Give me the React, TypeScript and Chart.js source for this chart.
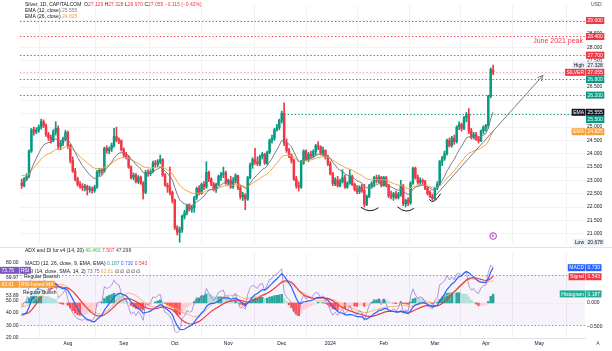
import { useEffect, useRef } from "react";
import { Chart, registerables } from "chart.js";

Chart.register(...registerables);

// ---------- daily candles, Silver 1D (idx 0 = 5 Jul 2023 … idx 194 = 4 Apr 2024) ----------
const opens = [
  22.90, 22.80, 23.05, 23.15, 24.10, 24.90, 24.82, 24.88, 25.00, 25.20,
  25.05, 24.72, 24.60, 24.50, 24.82, 24.95, 24.28, 24.40, 24.55, 24.80,
  24.30, 23.75, 23.35, 23.05, 22.85, 22.78, 22.72, 22.78, 22.65, 22.68,
  22.62, 22.75, 23.30, 23.38, 23.35, 24.20, 24.12, 24.18, 24.32, 24.65,
  24.52, 24.48, 24.15, 23.95, 23.88, 23.50, 23.10, 23.20, 22.95, 23.12,
  22.90, 22.55, 23.30, 23.25, 23.32, 23.65, 23.60, 23.70, 23.78, 23.20,
  22.82, 22.75, 22.55, 22.25, 21.22, 21.05, 21.15, 21.65, 21.78, 22.05,
  21.92, 21.98, 22.35, 22.70, 22.50, 22.85, 22.75, 23.30, 23.05, 22.85,
  22.65, 22.85, 23.15, 23.22, 23.28, 22.90, 23.00, 22.75, 22.98, 23.18,
  22.72, 22.38, 22.45, 22.30, 23.10, 23.58, 23.78, 23.70, 23.62, 23.90,
  23.98, 23.65, 24.05, 24.50, 24.58, 24.90, 24.98, 25.25, 25.52, 24.40,
  24.12, 23.95, 23.75, 23.05, 22.80, 22.75, 23.65, 24.10, 23.80, 23.98,
  23.92, 24.08, 24.30, 24.25, 24.02, 24.12, 23.85, 23.62, 23.25, 22.88,
  23.02, 22.80, 22.95, 23.10, 22.75, 22.90, 23.15, 22.85, 22.65, 22.58,
  22.75, 22.62, 22.10, 22.40, 22.80, 22.88, 23.10, 22.98, 23.12, 22.80,
  23.10, 22.82, 22.42, 22.38, 22.50, 22.35, 22.48, 22.80, 22.12, 22.25,
  22.15, 22.90, 23.45, 23.12, 22.92, 23.00, 22.95, 22.70, 22.55, 22.40,
  22.32, 22.70, 22.85, 23.70, 23.82, 24.00, 24.50, 24.30, 24.58, 24.45,
  25.00, 25.10, 24.95, 25.35, 25.48, 24.85, 24.62, 24.72, 24.55, 24.48,
  24.85, 25.00, 25.05, 26.15, 27.129,
];
const highs = [
  23.05, 23.10, 23.25, 24.15, 24.95, 25.00, 24.98, 25.08, 25.30, 25.27,
  25.12, 24.80, 24.70, 24.90, 25.20, 25.05, 24.50, 24.62, 24.88, 24.85,
  24.35, 23.88, 23.45, 23.12, 22.95, 22.88, 22.85, 22.82, 22.78, 22.75,
  22.82, 23.38, 23.45, 23.45, 24.25, 24.30, 24.25, 24.40, 24.95, 25.00,
  24.60, 24.52, 24.22, 24.05, 23.92, 23.55, 23.28, 23.25, 23.18, 23.16,
  22.95, 23.38, 23.40, 23.40, 23.72, 23.75, 23.78, 23.95, 23.82, 23.25,
  22.90, 23.50, 22.60, 22.30, 21.30, 21.25, 21.70, 21.88, 22.10, 22.12,
  22.05, 22.40, 22.75, 22.80, 22.90, 22.95, 23.70, 23.35, 23.10, 22.92,
  22.90, 23.20, 23.30, 23.50, 23.35, 23.05, 23.15, 23.10, 23.25, 23.20,
  22.80, 22.55, 22.50, 23.15, 23.65, 23.85, 24.20, 23.88, 23.95, 24.05,
  24.02, 24.10, 24.55, 24.70, 24.95, 25.10, 25.30, 25.60, 25.91, 24.55,
  24.20, 24.00, 23.80, 23.15, 22.95, 23.75, 24.15, 24.15, 24.05, 24.10,
  24.15, 24.35, 24.45, 24.30, 24.25, 24.15, 23.95, 23.70, 23.30, 23.10,
  23.15, 23.05, 23.40, 23.20, 22.95, 23.40, 23.20, 22.90, 22.80, 22.80,
  22.85, 22.85, 22.45, 22.85, 22.95, 23.15, 23.20, 23.20, 23.15, 23.15,
  23.15, 22.85, 22.60, 22.55, 22.60, 22.55, 23.00, 22.85, 22.30, 22.35,
  22.95, 23.50, 23.50, 23.20, 23.10, 23.05, 23.00, 22.75, 22.62, 22.48,
  22.75, 22.95, 23.75, 23.90, 24.10, 24.55, 24.60, 24.65, 24.70, 25.05,
  25.20, 25.15, 25.40, 25.55, 25.69, 24.95, 24.80, 24.80, 24.65, 24.90,
  25.05, 25.10, 26.20, 27.22, 27.328,
];
const lows = [
  22.70, 22.75, 23.00, 23.10, 24.05, 24.70, 24.75, 24.80, 24.92, 24.98,
  24.65, 24.50, 24.40, 24.45, 24.70, 24.18, 24.15, 24.30, 24.48, 24.20,
  23.65, 23.30, 22.98, 22.78, 22.70, 22.62, 22.60, 22.45, 22.55, 22.52,
  22.55, 22.70, 23.18, 23.22, 23.30, 24.02, 24.00, 24.08, 24.25, 24.45,
  24.38, 24.10, 23.88, 23.80, 23.45, 23.05, 23.02, 22.90, 22.88, 22.85,
  22.30, 22.50, 23.15, 23.18, 23.28, 23.50, 23.52, 23.62, 23.15, 22.78,
  22.55, 22.45, 22.15, 21.15, 20.95, 20.678, 21.05, 21.55, 21.70, 21.85,
  21.80, 21.80, 22.28, 22.45, 22.48, 22.65, 22.70, 22.95, 22.80, 22.60,
  22.55, 22.80, 23.00, 23.10, 22.85, 22.80, 22.70, 22.70, 22.90, 22.65,
  22.30, 22.25, 21.90, 22.25, 23.05, 23.45, 23.60, 23.55, 23.55, 23.80,
  23.60, 23.60, 24.00, 24.40, 24.50, 24.85, 24.90, 25.15, 24.30, 24.05,
  23.85, 23.65, 23.00, 22.70, 22.60, 22.70, 23.60, 23.75, 23.70, 23.85,
  23.85, 23.95, 24.15, 23.95, 23.92, 23.80, 23.55, 23.20, 22.80, 22.80,
  22.75, 22.75, 22.90, 22.70, 22.70, 22.85, 22.80, 22.60, 22.50, 22.50,
  22.55, 22.00, 22.05, 22.35, 22.70, 22.75, 22.90, 22.90, 22.75, 22.78,
  22.75, 22.35, 22.30, 22.25, 22.30, 22.30, 22.40, 22.05, 22.00, 22.05,
  22.10, 22.85, 23.05, 22.85, 22.85, 22.85, 22.65, 22.45, 22.35, 22.25,
  22.28, 22.65, 22.80, 23.55, 23.75, 23.95, 24.25, 24.25, 24.35, 24.40,
  24.90, 24.85, 24.90, 25.20, 24.75, 24.55, 24.55, 24.50, 24.40, 24.45,
  24.75, 24.85, 24.95, 26.10, 26.970,
];
const closes = [
  22.80, 23.05, 23.15, 24.10, 24.90, 24.82, 24.88, 25.00, 25.20, 25.05,
  24.72, 24.60, 24.50, 24.82, 24.95, 24.28, 24.40, 24.55, 24.80, 24.30,
  23.75, 23.35, 23.05, 22.85, 22.78, 22.72, 22.78, 22.65, 22.68, 22.62,
  22.75, 23.30, 23.38, 23.35, 24.20, 24.12, 24.18, 24.32, 24.65, 24.52,
  24.48, 24.15, 23.95, 23.88, 23.50, 23.10, 23.20, 22.95, 23.12, 22.90,
  22.55, 23.30, 23.25, 23.32, 23.65, 23.60, 23.70, 23.78, 23.20, 22.82,
  22.75, 22.55, 22.25, 21.22, 21.05, 21.15, 21.65, 21.78, 22.05, 21.92,
  21.98, 22.35, 22.70, 22.50, 22.85, 22.75, 23.30, 23.05, 22.85, 22.65,
  22.85, 23.15, 23.22, 23.28, 22.90, 23.00, 22.75, 22.98, 23.18, 22.72,
  22.38, 22.45, 22.30, 23.10, 23.58, 23.78, 23.70, 23.62, 23.90, 23.98,
  23.65, 24.05, 24.50, 24.58, 24.90, 24.98, 25.25, 25.52, 24.40, 24.12,
  23.95, 23.75, 23.05, 22.80, 22.75, 23.65, 24.10, 23.80, 23.98, 23.92,
  24.08, 24.30, 24.25, 24.02, 24.12, 23.85, 23.62, 23.25, 22.88, 23.02,
  22.80, 22.95, 23.10, 22.75, 22.90, 23.15, 22.85, 22.65, 22.58, 22.75,
  22.62, 22.10, 22.40, 22.80, 22.88, 23.10, 22.98, 23.12, 22.80, 23.10,
  22.82, 22.42, 22.38, 22.50, 22.35, 22.48, 22.80, 22.12, 22.25, 22.15,
  22.90, 23.45, 23.12, 22.92, 23.00, 22.95, 22.70, 22.50, 22.40, 22.32,
  22.70, 22.85, 23.70, 23.82, 24.00, 24.50, 24.30, 24.58, 24.45, 25.00,
  25.10, 24.95, 25.35, 25.48, 24.85, 24.62, 24.72, 24.55, 24.48, 24.85,
  25.00, 25.05, 26.15, 27.17, 27.055,
];

// ---------- axes / ticks ----------
const monthTickIdx = [19, 42, 63, 85, 107, 127, 149, 170, 191, 213];
const monthTickLabels = ["Aug", "Sep", "Oct", "Nov", "Dec", "2024", "Feb", "Mar", "Apr", "May"];
const priceTicks = [21, 21.5, 22, 22.5, 23, 23.5, 24, 24.5, 25, 25.5, 26, 26.5, 27, 27.5, 28, 28.5, 29];
const hiddenPriceLabels = [25.5, 26, 27];
const rsiAxisTicks = [80, 50, 40, 30, 20];
const rsiExtraLabels = [69.97, 53.89];
const macdAxisTicks = [0, -0.5];
const xRange = [-0.7, 231.8];
const priceRange = [20.649, 29.582];
const rsiRange = [19.85, 87.54];
const macdRange = [-0.726, 1.034];

// ---------- drawn levels / annotations (data coordinates) ----------
const redLevels = [29.0, 28.4, 27.7];
const greenLevels = [26.8, 26.2];
const breakoutLevel = 25.5;
const breakoutFromIdx = 108;
const smileArcs = [
  [139.6, 21.99, 143.2, 21.86, 146.8, 21.97],
  [154.6, 22.01, 158.0, 21.85, 161.4, 21.95],
  [167.7, 22.29, 169.7, 22.22, 172.4, 22.5],
];
const trendArrow = [168.8, 22.28, 214.5, 26.94];
const peakNotePrice = 28.21;
const eventIdx = 194;

// ---------- indicator seeds & legend values ----------
const ema12Seed = 22.95;
const ema26Seed = 23.22;
const signalSeed = -0.22;
const rsiSeed = [22.95, 0.12, 0.14];
const rsiMaSeed = 45;
const emaLegend = [25.555, 24.825];
const macdLegend = [0.187, 0.73, 0.543];
const rsiLegend = [73.75, 63.61];
const adxLegend = [40.463, 7.507, 47.298];

const FONT = '"Liberation Sans", Arial, sans-serif';
const DARK = "#131722";
const GREEN = "#089981";
const RED = "#f23645";
const GRID = "#f1f2f5";

function ema(src: number[], period: number, seed: number) {
  const a = 2 / (period + 1);
  let e = seed;
  return src.map((v) => (e = e + a * (v - e)));
}
function rsiCalc(src: number[], period: number, seed: number[]) {
  let [prev, ag, al] = seed;
  return src.map((v) => {
    const ch = v - prev;
    prev = v;
    ag = (ag * (period - 1) + Math.max(ch, 0)) / period;
    al = (al * (period - 1) + Math.max(-ch, 0)) / period;
    return 100 - 100 / (1 + ag / al);
  });
}
function sma(src: number[], period: number, seed: number) {
  return src.map((_, i) => {
    let s = 0;
    for (let k = i - period + 1; k <= i; k++) s += k >= 0 ? src[k] : seed;
    return s / period;
  });
}
function segs(ctx: any, x: number, y: number, parts: [string, string][], size = 5) {
  ctx.font = `${size}px ${FONT}`;
  ctx.textBaseline = "middle";
  ctx.textAlign = "left";
  let cx = x;
  for (const [t, c] of parts) {
    ctx.fillStyle = c;
    ctx.fillText(t, cx, y);
    cx += ctx.measureText(t).width;
  }
}
function tag(ctx: any, x: number, yc: number, text: string, bg: string, fg: string, minW = 0, alignRight = false) {
  ctx.font = `5px ${FONT}`;
  const w = Math.max(minW, ctx.measureText(text).width + 3);
  const x0 = alignRight ? x - w : x;
  ctx.fillStyle = bg;
  ctx.fillRect(x0, yc - 3.5, w, 7);
  ctx.fillStyle = fg;
  ctx.textBaseline = "middle";
  ctx.textAlign = "left";
  ctx.fillText(text, x0 + 1.5, yc + 0.3);
}
const fmt = (v: number) => (v < 0 ? "\u2212" : "") + Math.abs(v).toFixed(3);

export default function App() {
  const mainRef = useRef<HTMLCanvasElement>(null);
  const subRef = useRef<HTMLCanvasElement>(null);

  useEffect(() => {
    Chart.defaults.font.family = FONT;
    const n = closes.length;
    const last = n - 1;
    const ema12 = ema(closes, 12, ema12Seed);
    const ema26 = ema(closes, 26, ema26Seed);
    const macd = ema12.map((v, i) => v - ema26[i]);
    const signal = ema(macd, 9, signalSeed);
    const hist = macd.map((v, i) => v - signal[i]);
    const rsi = rsiCalc(closes, 14, rsiSeed);
    const rsiMa = sma(rsi, 14, rsiMaSeed);
    const candleColors = closes.map((c, i) => (c >= opens[i] ? GREEN : RED));
    const histColors = hist.map((h, i) => {
      const p = i > 0 ? hist[i - 1] : h;
      if (h >= 0) return h > p ? "#26a69a" : "#b2dfdb";
      return h < p ? "#ff5252" : "#ffcdd2";
    });
    const pts = (arr: number[]) => arr.map((v, i) => ({ x: i, y: v }));

    const mainPlugin = {
      id: "mainOverlay",
      beforeDatasetsDraw(chart: any) {
        const { ctx, chartArea: a, scales } = chart;
        const x = scales.x, y = scales.y;
        ctx.save();
        ctx.lineWidth = 1.1;
        ctx.setLineDash([1.3, 2.2]);
        const hl = (p: number, color: string, from?: number) => {
          const yy = Math.round(y.getPixelForValue(p)) + 0.5;
          ctx.strokeStyle = color;
          ctx.beginPath();
          ctx.moveTo(from != null ? x.getPixelForValue(from) : a.left, yy);
          ctx.lineTo(a.right, yy);
          ctx.stroke();
        };
        redLevels.forEach((p) => hl(p, RED));
        hl(closes[last], "rgba(242,54,69,0.45)");
        greenLevels.forEach((p) => hl(p, GREEN));
        hl(breakoutLevel, GREEN, breakoutFromIdx);
        ctx.restore();
      },
      afterDatasetsDraw(chart: any) {
        const { ctx, chartArea: a, scales } = chart;
        const x = scales.x, y = scales.y;
        ctx.save();
        ctx.setLineDash([]);
        ctx.strokeStyle = DARK;
        ctx.lineWidth = 1;
        smileArcs.forEach(([x1, p1, xm, pm, x2, p2]) => {
          const X1 = x.getPixelForValue(x1), Y1 = y.getPixelForValue(p1);
          const XM = x.getPixelForValue(xm), YM = y.getPixelForValue(pm);
          const X2 = x.getPixelForValue(x2), Y2 = y.getPixelForValue(p2);
          ctx.beginPath();
          ctx.moveTo(X1, Y1);
          ctx.quadraticCurveTo(2 * XM - (X1 + X2) / 2, 2 * YM - (Y1 + Y2) / 2, X2, Y2);
          ctx.stroke();
        });
        // trend arrow
        const [ax1, ap1, ax2, ap2] = trendArrow;
        const X1 = x.getPixelForValue(ax1), Y1 = y.getPixelForValue(ap1);
        const X2 = x.getPixelForValue(ax2), Y2 = y.getPixelForValue(ap2);
        ctx.strokeStyle = "#787b86";
        ctx.beginPath();
        ctx.moveTo(X1, Y1);
        ctx.lineTo(X2, Y2);
        const th = Math.atan2(Y2 - Y1, X2 - X1);
        const L = 6;
        ctx.moveTo(X2 - L * Math.cos(th - 0.45), Y2 - L * Math.sin(th - 0.45));
        ctx.lineTo(X2, Y2);
        ctx.lineTo(X2 - L * Math.cos(th + 0.45), Y2 - L * Math.sin(th + 0.45));
        ctx.stroke();
        // event marker
        const ex = x.getPixelForValue(eventIdx), ey = a.bottom - 7;
        ctx.strokeStyle = "#9c27b0";
        ctx.fillStyle = "#fff";
        ctx.lineWidth = 0.9;
        ctx.beginPath();
        ctx.arc(ex, ey, 3.3, 0, Math.PI * 2);
        ctx.fill();
        ctx.stroke();
        ctx.fillStyle = "#9c27b0";
        ctx.font = `4px ${FONT}`;
        ctx.textAlign = "center";
        ctx.textBaseline = "middle";
        ctx.fillText("E", ex, ey + 0.3);
        // June 2021 peak note
        ctx.fillStyle = RED;
        ctx.font = `7px ${FONT}`;
        ctx.textAlign = "right";
        ctx.fillText("June 2021 peak", a.right - 2, y.getPixelForValue(peakNotePrice));
        ctx.restore();
      },
      afterDraw(chart: any) {
        const { ctx, scales } = chart;
        const y = scales.y;
        ctx.save();
        // separator
        ctx.strokeStyle = "#e0e3eb";
        ctx.lineWidth = 1;
        ctx.beginPath();
        ctx.moveTo(0, 247.5);
        ctx.lineTo(612, 247.5);
        ctx.stroke();
        // legend
        const o = opens[last], h = highs[last], l = lows[last], c = closes[last];
        const ch = c - closes[last - 1];
        const vc = ch >= 0 ? GREEN : RED;
        const sg = ch >= 0 ? "+" : "\u2212";
        segs(ctx, 25, 5, [
          ["Silver, 1D, CAPITALCOM", DARK],
          ["  O", DARK], [o.toFixed(3), vc],
          [" H", DARK], [h.toFixed(3), vc],
          [" L", DARK], [l.toFixed(3), vc],
          [" C", DARK], [c.toFixed(3), vc],
          [` ${sg}${Math.abs(ch).toFixed(3)} (${sg}${Math.abs((ch / closes[last - 1]) * 100).toFixed(2)}%)`, vc],
        ]);
        segs(ctx, 25, 11, [["EMA (12, close)", DARK], [" " + emaLegend[0].toFixed(3), "#787b86"]]);
        segs(ctx, 25, 16.8, [["EMA (26, close)", DARK], [" " + emaLegend[1].toFixed(3), "#f29d38"]]);
        // price scale labels
        ctx.fillStyle = "#434651";
        ctx.font = `5px ${FONT}`;
        ctx.textAlign = "left";
        ctx.fillText("USD", 591, 5);
        const items: any[] = [
          ...redLevels.map((p) => ({ p, text: p.toFixed(3), bg: RED, fg: "#fff" })),
          { p: highs.reduce((m, v) => Math.max(m, v)), text: "", bg: "#e9edf5", fg: DARK, name: "High" },
          { p: closes[last], text: closes[last].toFixed(3), bg: RED, fg: "#fff", name: "SILVER" },
          ...greenLevels.map((p) => ({ p, text: p.toFixed(3), bg: GREEN, fg: "#fff" })),
          { p: emaLegend[0], text: emaLegend[0].toFixed(3), bg: DARK, fg: "#fff", name: "EMA" },
          { p: breakoutLevel, text: breakoutLevel.toFixed(3), bg: GREEN, fg: "#fff" },
          { p: emaLegend[1], text: emaLegend[1].toFixed(3), bg: "#f7a13d", fg: "#fff", name: "EMA" },
        ];
        items.forEach((it) => { if (!it.text) it.text = it.p.toFixed(3); it.yy = y.getPixelForValue(it.p); });
        items.sort((a2, b2) => a2.yy - b2.yy);
        for (let i = 1; i < items.length; i++) items[i].yy = Math.max(items[i].yy, items[i - 1].yy + 7.2);
        items.forEach((it) => {
          if (it.name) tag(ctx, 585.5, it.yy, it.name, it.bg, it.fg, 0, true);
          tag(ctx, 586, it.yy, it.text, it.bg, it.fg, 18);
        });
        const lowV = lows.reduce((m, v) => Math.min(m, v));
        const ly = Math.min(y.getPixelForValue(lowV), 243);
        tag(ctx, 585.5, ly, "Low", "#e9edf5", DARK, 0, true);
        tag(ctx, 586, ly, lowV.toFixed(3), "#e9edf5", DARK, 18);
        ctx.restore();
      },
    };

    const subPlugin = {
      id: "subOverlay",
      beforeDatasetsDraw(chart: any) {
        const { ctx, chartArea: a, scales } = chart;
        const yL = scales.yL, yR = scales.yR;
        ctx.save();
        const y70 = yL.getPixelForValue(70), y30 = yL.getPixelForValue(30);
        ctx.fillStyle = "rgba(126,87,194,0.07)";
        ctx.fillRect(a.left, y70, a.right - a.left, y30 - y70);
        ctx.strokeStyle = "#9598a1";
        ctx.lineWidth = 1;
        ctx.setLineDash([1.5, 2]);
        [y70, y30].forEach((yy) => {
          ctx.beginPath();
          ctx.moveTo(a.left, Math.round(yy) + 0.5);
          ctx.lineTo(a.right, Math.round(yy) + 0.5);
          ctx.stroke();
        });
        ctx.setLineDash([]);
        ctx.strokeStyle = "#eceef2";
        const y0 = Math.round(yR.getPixelForValue(0)) + 0.5;
        ctx.beginPath();
        ctx.moveTo(a.left, y0);
        ctx.lineTo(a.right, y0);
        ctx.stroke();
        ctx.restore();
      },
      afterDraw(chart: any) {
        const { ctx, scales } = chart;
        const yL = scales.yL, yR = scales.yR;
        ctx.save();
        segs(ctx, 25, 2.8, [
          ["ADX and DI for v4 (14, 20)", DARK],
          [" " + adxLegend[0].toFixed(3), "#4caf50"],
          [" " + adxLegend[1].toFixed(3), RED],
          [" " + adxLegend[2].toFixed(3), "#434651"],
        ]);
        segs(ctx, 25, 15.8, [
          ["MACD (12, 26, close, 9, EMA, EMA)", DARK],
          [" " + macdLegend[0].toFixed(3), "#22ab94"],
          [" " + macdLegend[1].toFixed(3), "#2962ff"],
          [" " + macdLegend[2].toFixed(3), RED],
        ]);
        segs(ctx, 25, 24, [
          ["RSI (14, close, SMA, 14, 2)", DARK],
          [" " + rsiLegend[0].toFixed(2), "#7e57c2"],
          [" " + rsiLegend[1].toFixed(2), "#f7a13d"],
          [" \u2205 \u2205 \u2205 \u2205 \u2205", DARK],
        ]);
        // divergence labels
        ctx.font = `5px ${FONT}`;
        const lbl = (t: string, x: number, yy: number) => {
          const w = ctx.measureText(t).width + 2;
          ctx.fillStyle = "rgba(255,255,255,0.8)";
          ctx.fillRect(x - 1, yy - 3.2, w, 6.4);
          ctx.fillStyle = DARK;
          ctx.textAlign = "left";
          ctx.textBaseline = "middle";
          ctx.fillText(t, x, yy);
        };
        lbl("Regular Bearish", 24, 28.5);
        lbl("Regular Bullish", 23, 45);
        // left scale extra labels and tags
        const left: any[] = [
          { v: rsiLegend[0], text: rsiLegend[0].toFixed(2), name: "RSI", bg: "#7e57c2" },
          { v: rsiExtraLabels[0], text: rsiExtraLabels[0].toFixed(2) },
          { v: rsiLegend[1], text: rsiLegend[1].toFixed(2), name: "RSI-based MA", bg: "#f7a13d" },
          { v: rsiExtraLabels[1], text: rsiExtraLabels[1].toFixed(2) },
        ];
        left.forEach((it) => (it.yy = yL.getPixelForValue(it.v)));
        for (let i = 1; i < left.length; i++) left[i].yy = Math.max(left[i].yy, left[i - 1].yy + 7);
        left.forEach((it) => {
          if (it.bg) {
            tag(ctx, 0, it.yy, it.text, it.bg, "#fff", 19);
            tag(ctx, 19.5, it.yy, it.name, it.bg, "#fff");
          } else {
            ctx.fillStyle = DARK;
            ctx.font = `5px ${FONT}`;
            ctx.textAlign = "right";
            ctx.textBaseline = "middle";
            ctx.fillText(it.text, 18.5, it.yy);
          }
        });
        // right tags
        const right: any[] = [
          { v: macdLegend[1], name: "MACD", bg: "#2962ff" },
          { v: macdLegend[2], name: "Signal", bg: RED },
          { v: macdLegend[0], name: "Histogram", bg: "#22ab94" },
        ];
        right.forEach((it) => (it.yy = yR.getPixelForValue(it.v)));
        right.sort((a2, b2) => a2.yy - b2.yy);
        for (let i = 1; i < right.length; i++) right[i].yy = Math.max(right[i].yy, right[i - 1].yy + 7.2);
        right.forEach((it) => {
          tag(ctx, 585.5, it.yy, it.name, it.bg, "#fff", 0, true);
          tag(ctx, 586, it.yy, it.v.toFixed(3), it.bg, "#fff", 15);
        });
        ctx.fillStyle = "#434651";
        ctx.font = `5px ${FONT}`;
        ctx.textAlign = "center";
        ctx.textBaseline = "middle";
        ctx.fillText("A", 598, 95.5);
        ctx.restore();
      },
    };

    const common: any = {
      animation: false,
      responsive: false,
      devicePixelRatio: 1,
      events: [],
      plugins: { legend: { display: false }, tooltip: { enabled: false } },
    };
    const xScale = (showLabels: boolean): any => ({
      type: "linear",
      min: xRange[0],
      max: xRange[1],
      offset: false,
      afterBuildTicks: (s: any) => { s.ticks = monthTickIdx.map((v) => ({ value: v })); },
      afterFit: (s: any) => { s.height = showLabels ? 13 : 0; },
      ticks: {
        display: showLabels,
        autoSkip: false,
        maxRotation: 0,
        padding: 3,
        color: DARK,
        font: { size: 5, family: FONT },
        callback: (v: any) => monthTickLabels[monthTickIdx.indexOf(v)] ?? "",
      },
      grid: { color: GRID, drawTicks: false },
      border: { display: showLabels, color: "#e0e3eb" },
    });

    const main = new Chart(mainRef.current as HTMLCanvasElement, {
      type: "bar",
      data: {
        datasets: [
          { type: "line", data: pts(ema12), borderColor: "#787b86", borderWidth: 1, pointRadius: 0, order: 0 } as any,
          { type: "line", data: pts(ema26), borderColor: "#f2a442", borderWidth: 1, pointRadius: 0, order: 1 } as any,
          { type: "bar", data: opens.map((o, i) => ({ x: i, y: [o, closes[i]] })), backgroundColor: candleColors, barThickness: 1.8, minBarLength: 1, grouped: false, order: 2 } as any,
          { type: "bar", data: lows.map((l, i) => ({ x: i, y: [l, highs[i]] })), backgroundColor: candleColors, barThickness: 1, grouped: false, order: 3 } as any,
        ],
      },
      options: {
        ...common,
        layout: { padding: { left: 20, top: 0, right: 0, bottom: 1 } },
        scales: {
          x: xScale(false),
          y: {
            position: "right",
            min: priceRange[0],
            max: priceRange[1],
            afterBuildTicks: (s: any) => { s.ticks = priceTicks.map((v) => ({ value: v })); },
            afterFit: (s: any) => { s.width = 27; },
            ticks: {
              autoSkip: false,
              padding: 2,
              color: DARK,
              font: { size: 5, family: FONT },
              callback: (v: any) => (hiddenPriceLabels.includes(v) ? "" : Number(v).toFixed(3)),
            },
            grid: { color: GRID, drawTicks: false },
            border: { display: false },
          },
        },
      },
      plugins: [mainPlugin],
    } as any);

    const sub = new Chart(subRef.current as HTMLCanvasElement, {
      type: "bar",
      data: {
        datasets: [
          { type: "line", data: pts(macd), yAxisID: "yR", borderColor: "#2962ff", borderWidth: 1.2, pointRadius: 0, order: 1 } as any,
          { type: "line", data: pts(signal), yAxisID: "yR", borderColor: RED, borderWidth: 1.2, pointRadius: 0, order: 2 } as any,
          { type: "line", data: pts(rsi), yAxisID: "yL", borderColor: "rgba(126,87,194,0.65)", borderWidth: 0.9, pointRadius: 0, order: 3 } as any,
          { type: "line", data: pts(rsiMa), yAxisID: "yL", borderColor: "#f5b86f", borderWidth: 1, pointRadius: 0, order: 4 } as any,
          { type: "bar", data: pts(hist), yAxisID: "yR", backgroundColor: histColors, barThickness: 1.8, grouped: false, order: 5 } as any,
        ],
      },
      options: {
        ...common,
        layout: { padding: { left: 0, top: 2, right: 0, bottom: 0 } },
        scales: {
          x: xScale(true),
          yL: {
            position: "left",
            min: rsiRange[0],
            max: rsiRange[1],
            afterBuildTicks: (s: any) => { s.ticks = rsiAxisTicks.map((v) => ({ value: v })); },
            afterFit: (s: any) => { s.width = 20; },
            ticks: { autoSkip: false, padding: 1.5, color: DARK, font: { size: 5, family: FONT }, callback: (v: any) => Number(v).toFixed(2) },
            grid: { display: false, drawTicks: false },
            border: { display: false },
          },
          yR: {
            position: "right",
            min: macdRange[0],
            max: macdRange[1],
            afterBuildTicks: (s: any) => { s.ticks = macdAxisTicks.map((v) => ({ value: v })); },
            afterFit: (s: any) => { s.width = 27; },
            ticks: { autoSkip: false, padding: 2, color: DARK, font: { size: 5, family: FONT }, callback: (v: any) => fmt(Number(v)) },
            grid: { display: false, drawTicks: false },
            border: { display: false },
          },
        },
      },
      plugins: [subPlugin],
    } as any);

    return () => {
      main.destroy();
      sub.destroy();
    };
  }, []);

  return (
    <div style={{ position: "fixed", left: 0, top: 0, width: 612, height: 351, background: "#fff", overflow: "hidden" }}>
      <canvas ref={mainRef} width={612} height={248} style={{ position: "absolute", left: 0, top: 0 }} />
      <canvas ref={subRef} width={612} height={103} style={{ position: "absolute", left: 0, top: 248 }} />
    </div>
  );
}
